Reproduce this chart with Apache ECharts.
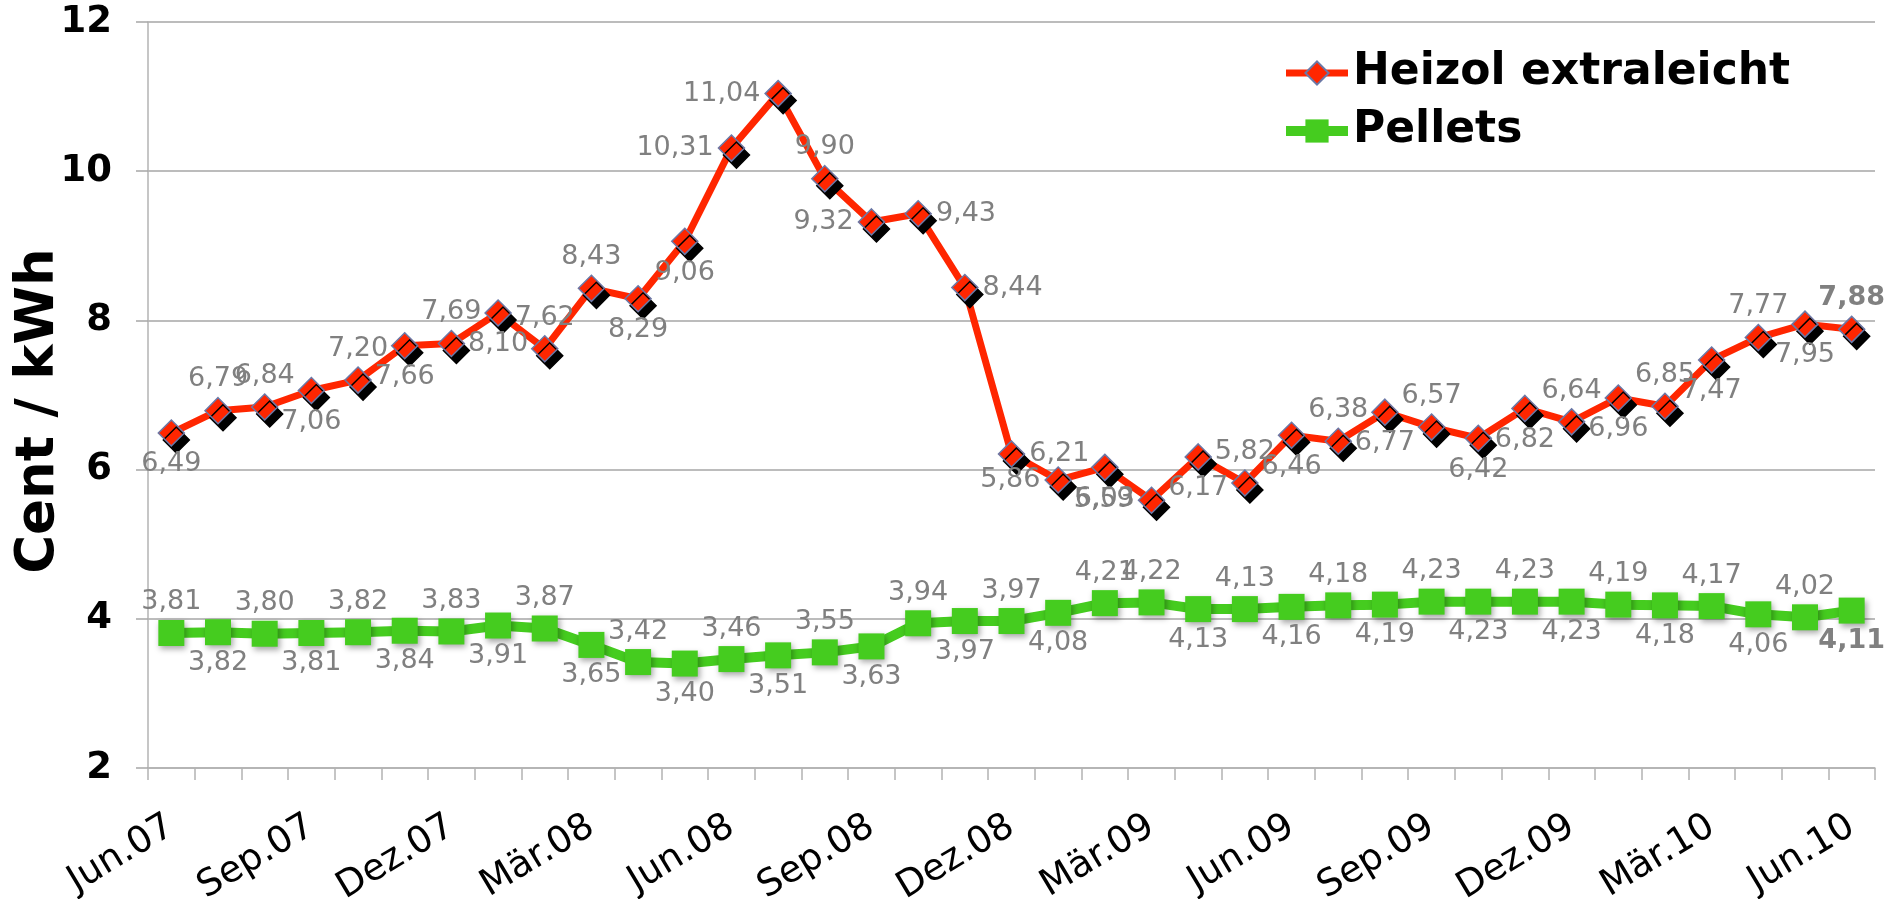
<!DOCTYPE html>
<html>
<head>
<meta charset="utf-8">
<script src="https://cdn.jsdelivr.net/npm/echarts@6/dist/echarts.min.js"></script>
<style>
html,body{margin:0;padding:0;background:#fff;}
#chart{width:1888px;height:899px;}
</style>
</head>
<body>
<div id="chart"></div>
<script>
// ---- data ----
var months = ['Jun.07','Jul.07','Aug.07','Sep.07','Okt.07','Nov.07','Dez.07','Jan.08','Feb.08','Mär.08','Apr.08','Mai.08',
  'Jun.08','Jul.08','Aug.08','Sep.08','Okt.08','Nov.08','Dez.08','Jan.09','Feb.09','Mär.09','Apr.09','Mai.09',
  'Jun.09','Jul.09','Aug.09','Sep.09','Okt.09','Nov.09','Dez.09','Jan.10','Feb.10','Mär.10','Apr.10','Mai.10','Jun.10'];
var heizol = [6.49,6.79,6.84,7.06,7.20,7.66,7.69,8.10,7.62,8.43,8.29,9.06,10.31,11.04,9.90,9.32,9.43,8.44,
  6.21,5.86,6.03,5.59,6.17,5.82,6.46,6.38,6.77,6.57,6.42,6.82,6.64,6.96,6.85,7.47,7.77,7.95,7.88];
var pellets = [3.81,3.82,3.80,3.81,3.82,3.84,3.83,3.91,3.87,3.65,3.42,3.40,3.46,3.51,3.55,3.63,3.94,3.97,
  3.97,4.08,4.21,4.22,4.13,4.13,4.16,4.18,4.19,4.23,4.23,4.23,4.23,4.19,4.18,4.17,4.06,4.02,4.11];
var yTicks = [2,4,6,8,10,12];
var seriesNames = ['Heizol extraleicht','Pellets'];
var axisTitle = 'Cent / kWh';

// ---- label placement (style) ----
var heizolLabelPos = ['bottom','top','top','bottom','top','bottom','top','bottom','top','top','bottom','bottom',
  'left','left','top','left','right','right','right','left','bottom','left','bottom','top','bottom','top',
  'bottom','top','bottom','bottom','top','bottom','top','bottom','top','bottom','top'];
var pelletsLabelPos = pellets.map(function(v,i){
  if (i < 21) return (i % 2 === 0) ? 'top' : 'bottom';
  if (i === 21) return 'top';
  return (i % 2 === 0) ? 'bottom' : 'top';
});

function fmt(p){ return p.value.toFixed(2).replace('.', ','); }
var FONT = 'DejaVu Sans';

function buildData(vals, pos){
  return vals.map(function(v,i){
    return {value: v, label: {position: pos[i], fontWeight: i === vals.length-1 ? 'bold' : 'normal'}};
  });
}

var chart = echarts.init(document.getElementById('chart'), null, {renderer:'canvas'});
chart.setOption({
  animation: false,
  backgroundColor: '#fff',
  grid: {left:148, right:13, top:22, bottom:131, containLabel:false, outerBoundsMode:'none'},
  legend: {
    orient: 'vertical', left: 1276, top: 46,
    itemWidth: 62, itemHeight: 29, itemGap: 14,
    data: seriesNames,
    textStyle: {fontSize: 44, fontWeight: 'bold', fontFamily: FONT, color: '#000'},
    lineStyle: {width: 'inherit'},
    itemStyle: {shadowBlur: 0, shadowOffsetX: 0, shadowOffsetY: 0, shadowColor: 'rgba(0,0,0,0)'}
  },
  xAxis: {
    type: 'category', data: months, boundaryGap: true,
    axisLine: {show: true, lineStyle: {color: '#b3b3b3', width: 1.5}},
    axisTick: {show: true, interval: 0, length: 12, lineStyle: {color: '#b3b3b3', width: 1.5}},
    axisLabel: {interval: 2, rotate: 31, fontSize: 37, fontFamily: FONT, color: '#000', margin: 56}
  },
  yAxis: {
    type: 'value', min: yTicks[0], max: yTicks[yTicks.length-1], interval: 2,
    name: axisTitle, nameLocation: 'middle', nameGap: 82, nameRotate: 90, nameMoveOverlap: false,
    nameTextStyle: {fontSize: 53, fontWeight: 'bold', fontFamily: FONT, color: '#000', padding: [0,32,0,0]},
    axisLine: {show: true, lineStyle: {color: '#b3b3b3', width: 1.5}},
    axisTick: {show: true, length: 12, lineStyle: {color: '#a6a6a6', width: 1.5}},
    splitLine: {show: true, lineStyle: {color: '#a6a6a6', width: 1.5}},
    axisLabel: {fontSize: 37, fontWeight: 'bold', fontFamily: FONT, color: '#000', margin: 36}
  },
  series: [
    {
      name: seriesNames[1], type: 'line', z: 2,
      data: buildData(pellets, pelletsLabelPos),
      symbol: 'rect', symbolSize: 26,
      lineStyle: {color: '#45cc1f', width: 10},
      itemStyle: {color: '#45cc1f', shadowColor: 'rgba(0,0,0,0.35)', shadowBlur: 6, shadowOffsetX: 2, shadowOffsetY: 3},
      label: {show: true, formatter: fmt, color: '#808080', fontSize: 27, fontFamily: FONT, distance: 4}
    },
    {
      name: seriesNames[0], type: 'line', z: 3,
      data: buildData(heizol, heizolLabelPos),
      symbol: 'diamond', symbolSize: [26, 26],
      lineStyle: {color: '#ff2600', width: 7},
      itemStyle: {color: '#ff2600', borderColor: '#6b78a6', borderWidth: 1.5,
        shadowColor: '#000', shadowBlur: 0, shadowOffsetX: 5, shadowOffsetY: 7},
      label: {show: true, formatter: fmt, color: '#808080', fontSize: 27, fontFamily: FONT, distance: 4}
    }
  ]
});
</script>
</body>
</html>
